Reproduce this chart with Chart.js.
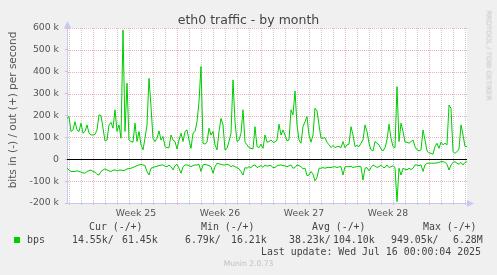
<!DOCTYPE html>
<html>
<head>
<meta charset="utf-8">
<script src="https://cdn.jsdelivr.net/npm/chart.js@4"></script>
<style>
  body { margin: 0; background: #f0f0f0; }
  #wrap { position: relative; width: 497px; height: 275px; overflow: hidden; font-family: "DejaVu Sans", sans-serif; }
  #wrap canvas { position: absolute; left: 0; top: 0; }
  .txt { position: absolute; white-space: pre; color: #444; }
  .mono { font-family: "DejaVu Sans Mono", monospace; font-size: 9.9px; line-height: 11.6px; color: #444; }
</style>
</head>
<body>
<div id="wrap">
  <canvas id="munin-chart" width="497" height="275"></canvas>
  <div class="txt" style="left:0;width:497px;top:12px;text-align:center;font-size:12.5px;color:#444;">eth0 traffic - by month</div>
  <div class="txt" style="left:-88px;top:103px;width:200px;height:14px;line-height:14px;text-align:center;font-size:10.5px;color:#555;transform:rotate(-90deg);">bits in (-) / out (+) per second</div>
  <div class="txt" style="left:443px;top:51px;width:90px;height:9px;line-height:9px;text-align:center;font-size:7px;color:#c4c4c4;transform:rotate(90deg);">RRDTOOL / TOBI OETIKER</div>

  <div class="txt mono" style="left:89px;top:221px;">Cur (-/+)</div>
  <div class="txt mono" style="left:201px;top:221px;">Min (-/+)</div>
  <div class="txt mono" style="left:312px;top:221px;">Avg (-/+)</div>
  <div class="txt mono" style="left:423px;top:221px;">Max (-/+)</div>

  <div style="position:absolute;left:14px;top:237px;width:6px;height:6px;background:#00cc00;"></div>
  <div class="txt mono" style="left:27px;top:234px;">bps</div>
  <div class="txt mono" style="left:72px;top:234px;">14.55k/</div>
  <div class="txt mono" style="left:122px;top:234px;">61.45k</div>
  <div class="txt mono" style="left:185px;top:234px;">6.79k/</div>
  <div class="txt mono" style="left:231px;top:234px;">16.21k</div>
  <div class="txt mono" style="left:289px;top:234px;">38.23k/</div>
  <div class="txt mono" style="left:333px;top:234px;">104.10k</div>
  <div class="txt mono" style="left:391px;top:234px;">949.05k/</div>
  <div class="txt mono" style="left:453px;top:234px;">6.28M</div>

  <div class="txt mono" style="left:261px;top:246px;">Last update: Wed Jul 16 00:00:04 2025</div>
  <div class="txt" style="left:0;width:497px;top:259px;text-align:center;font-size:7.6px;color:#c0c0c0;">Munin 2.0.73</div>
</div>

<script>
// samples every 4 hours, starting at the left edge of the graph
const startHour = 0;
const stepHours = 4;

// out (+), in k bits per second
const outK = [
  187, 195, 127, 134, 172, 134, 127, 165, 119, 127, 157, 119, 111, 111, 114, 134, 203, 200, 142, 84,
  88, 157, 169, 142, 226, 127, 157, 96, 591, 127, 348, 88, 81, 78, 165, 81, 127, 66, 43, 96,
  157, 370, 241, 96, 81, 96, 130, 88, 104, 58, 53,
  53, 111, 88, 81, 47, 88, 119, 81, 127, 134, 88, 50, 119, 127, 172, 264, 424, 73, 69, 78,
  142, 111, 127, 66, 43, 127, 187, 157, 43, 50, 81, 119, 363, 172, 81, 88, 119, 226, 78, 66,
  53, 50, 47, 149, 58, 53, 69, 50, 111, 78,
  81, 88, 78, 78, 88, 160, 111, 134, 111, 84, 88, 226, 203, 312, 157, 88, 73, 149, 172, 195,
  111, 78, 111, 233, 221, 157, 96, 96, 99, 78, 66, 53, 63, 53, 58, 58, 53, 81, 53, 66,
  69, 149, 111, 58, 63, 58, 73, 88, 157, 127,
  73, 43, 38, 81, 73, 66, 47, 38, 53, 88, 160, 96, 58, 53, 332, 81, 165, 127, 78, 78,
  73, 81, 88, 58, 43, 38, 43, 134, 88, 38, 30, 27, 23, 58, 73, 50, 78, 66, 73, 66,
  248, 233, 35, 27, 35, 47, 157, 111, 58, 58
];

// in (-), in k bits per second, drawn below zero
const inK = [
  -41, -49, -56, -56, -56, -53, -56, -59, -62, -64, -56, -52, -49, -56, -59, -69, -72, -56, -49, -44,
  -49, -53, -56, -50, -49, -53, -50, -49, -52, -50, -44, -43, -41, -37, -34, -29, -26, -23, -26, -29,
  -56, -72, -41, -38, -34, -32, -29, -27, -26, -32, -34,
  -27, -34, -49, -30, -23, -41, -64, -34, -26, -26, -29, -34, -29, -26, -26, -23, -56, -26, -23, -26,
  -29, -34, -64, -34, -18, -21, -23, -26, -26, -23, -26, -34, -29, -34, -38, -44, -56, -72, -38, -41,
  -34, -38, -29, -26, -38, -34, -29, -37, -26, -32,
  -29, -29, -38, -38, -30, -27, -26, -29, -30, -34, -30, -26, -41, -38, -26, -29, -34, -44, -41, -75,
  -72, -56, -69, -99, -84, -41, -41, -38, -41, -38, -37, -38, -35, -34, -38, -35, -34, -72, -34, -34,
  -34, -32, -38, -35, -34, -32, -34, -95, -41, -38,
  -53, -38, -26, -32, -37, -34, -27, -37, -38, -26, -38, -34, -30, -37, -194, -41, -72, -41, -46, -49,
  -41, -47, -41, -26, -26, -29, -26, -56, -26, -18, -18, -18, -18, -18, -17, -14, -11, -11, -14, -23,
  -49, -26, -14, -11, -18, -23, -14, -26, -14, -11
];

// week labels and where they sit (hours from the left edge)
const weekLabels = ["Week 25", "Week 26", "Week 27", "Week 28"];
const weekLabelHours = [138, 306, 474, 642];
// first day line and first week line (hours)
const firstDayHour = 4;
const firstWeekHour = 52;

const green = "#00cc00";
const redGrid = "#ebb4b4";
const grayGrid = "#c8c8c8";
const axisBlue = "#c8c8f4";

function toPoints(values) {
  return values.map((v, i) => ({ x: startHour + i * stepHours, y: v }));
}

function isWeekLine(h) {
  return (h - firstWeekHour) % 168 === 0;
}

function xLineColor(v) {
  if (weekLabelHours.includes(v)) return "rgba(0,0,0,0)";
  return isWeekLine(v) ? redGrid : grayGrid;
}

function yLineColor(v) {
  return v % 100 === 0 ? redGrid : grayGrid;
}

const muninPlugin = {
  id: "munin",
  beforeDraw(chart) {
    const { ctx, chartArea: a } = chart;
    ctx.save();
    ctx.fillStyle = "#ffffff";
    ctx.fillRect(a.left, a.top, a.right - a.left, a.bottom - a.top);
    ctx.restore();
  },
  beforeDatasetsDraw(chart) {
    const { ctx, chartArea: a } = chart;
    const xs = chart.scales.x;
    const ys = chart.scales.y;
    ctx.save();
    ctx.lineWidth = 1;
    ctx.setLineDash([1, 1]);
    // dotted grid, light lines first
    [grayGrid, redGrid].forEach(col => {
      ctx.strokeStyle = col;
      ys.ticks.forEach(t => {
        if (t.value === 0 || t.value === ys.min || yLineColor(t.value) !== col) return;
        const y = Math.round(ys.getPixelForValue(t.value)) + 0.5;
        ctx.beginPath();
        ctx.moveTo(a.left + 1, y);
        ctx.lineTo(a.right, y);
        ctx.stroke();
      });
      xs.ticks.forEach(t => {
        if (xLineColor(t.value) !== col) return;
        const x = Math.round(xs.getPixelForValue(t.value)) + 0.5;
        ctx.beginPath();
        ctx.moveTo(x, a.top);
        ctx.lineTo(x, a.bottom);
        ctx.stroke();
      });
    });
    ctx.setLineDash([]);
    // zero line
    const y0 = Math.round(ys.getPixelForValue(0)) + 0.5;
    ctx.strokeStyle = "#000000";
    ctx.beginPath();
    ctx.moveTo(a.left, y0);
    ctx.lineTo(a.right, y0);
    ctx.stroke();
    ctx.restore();
  },
  afterDraw(chart) {
    const { ctx, chartArea: a } = chart;
    ctx.save();
    ctx.fillStyle = axisBlue;
    // arrow on top of the y axis
    ctx.beginPath();
    ctx.moveTo(a.left - 3, a.top);
    ctx.lineTo(a.left + 0.5, a.top - 7);
    ctx.lineTo(a.left + 4, a.top);
    ctx.closePath();
    ctx.fill();
    // arrow at the end of the x axis
    ctx.beginPath();
    ctx.moveTo(a.right, a.bottom - 3);
    ctx.lineTo(a.right + 7, a.bottom + 0.5);
    ctx.lineTo(a.right, a.bottom + 4);
    ctx.closePath();
    ctx.fill();
    ctx.restore();
  }
};

Chart.defaults.font.family = "'DejaVu Sans', sans-serif";
Chart.defaults.color = "#555";

const ctx = document.getElementById("munin-chart").getContext("2d");

new Chart(ctx, {
  type: "line",
  data: {
    datasets: [
      {
        label: "out",
        data: toPoints(outK),
        borderColor: green,
        borderWidth: 1,
        pointRadius: 0,
        fill: false,
        tension: 0
      },
      {
        label: "in",
        data: toPoints(inK),
        borderColor: green,
        borderWidth: 1,
        pointRadius: 0,
        fill: false,
        tension: 0
      }
    ]
  },
  options: {
    responsive: false,
    animation: false,
    events: [],
    layout: {
      padding: { left: 0, top: 28, right: 30, bottom: 52 }
    },
    plugins: {
      legend: { display: false },
      title: { display: false },
      tooltip: { enabled: false }
    },
    scales: {
      x: {
        type: "linear",
        min: 0,
        max: 800,
        afterBuildTicks(scale) {
          const hours = [];
          for (let h = firstDayHour; h < 800; h += 24) hours.push(h);
          weekLabelHours.forEach(h => hours.push(h));
          hours.sort((a, b) => a - b);
          scale.ticks = hours.map(h => ({ value: h }));
        },
        afterFit(scale) {
          scale.height = 20;
        },
        ticks: {
          autoSkip: false,
          maxRotation: 0,
          padding: 3,
          font: { size: 9.3 },
          color: "#555",
          callback: value => {
            const i = weekLabelHours.indexOf(value);
            return i >= 0 ? weekLabels[i] : "";
          }
        },
        grid: {
          drawOnChartArea: false,
          lineWidth: 1,
          tickLength: 2,
          tickColor: c => xLineColor(c.tick ? c.tick.value : 0)
        },
        border: {
          display: true,
          color: axisBlue,
          width: 1
        }
      },
      y: {
        min: -200,
        max: 600,
        afterFit(scale) {
          scale.width = 67;
        },
        ticks: {
          stepSize: 50,
          padding: 6,
          font: { size: 9.3 },
          color: "#555",
          callback: value => {
            if (value % 100 !== 0) return "";
            return value === 0 ? "0" : value + " k";
          }
        },
        grid: {
          drawOnChartArea: false,
          lineWidth: 1,
          tickLength: 2,
          tickColor: c => yLineColor(c.tick ? c.tick.value : 0)
        },
        border: {
          display: true,
          color: axisBlue,
          width: 1
        }
      }
    }
  },
  plugins: [muninPlugin]
});
</script>
</body>
</html>
